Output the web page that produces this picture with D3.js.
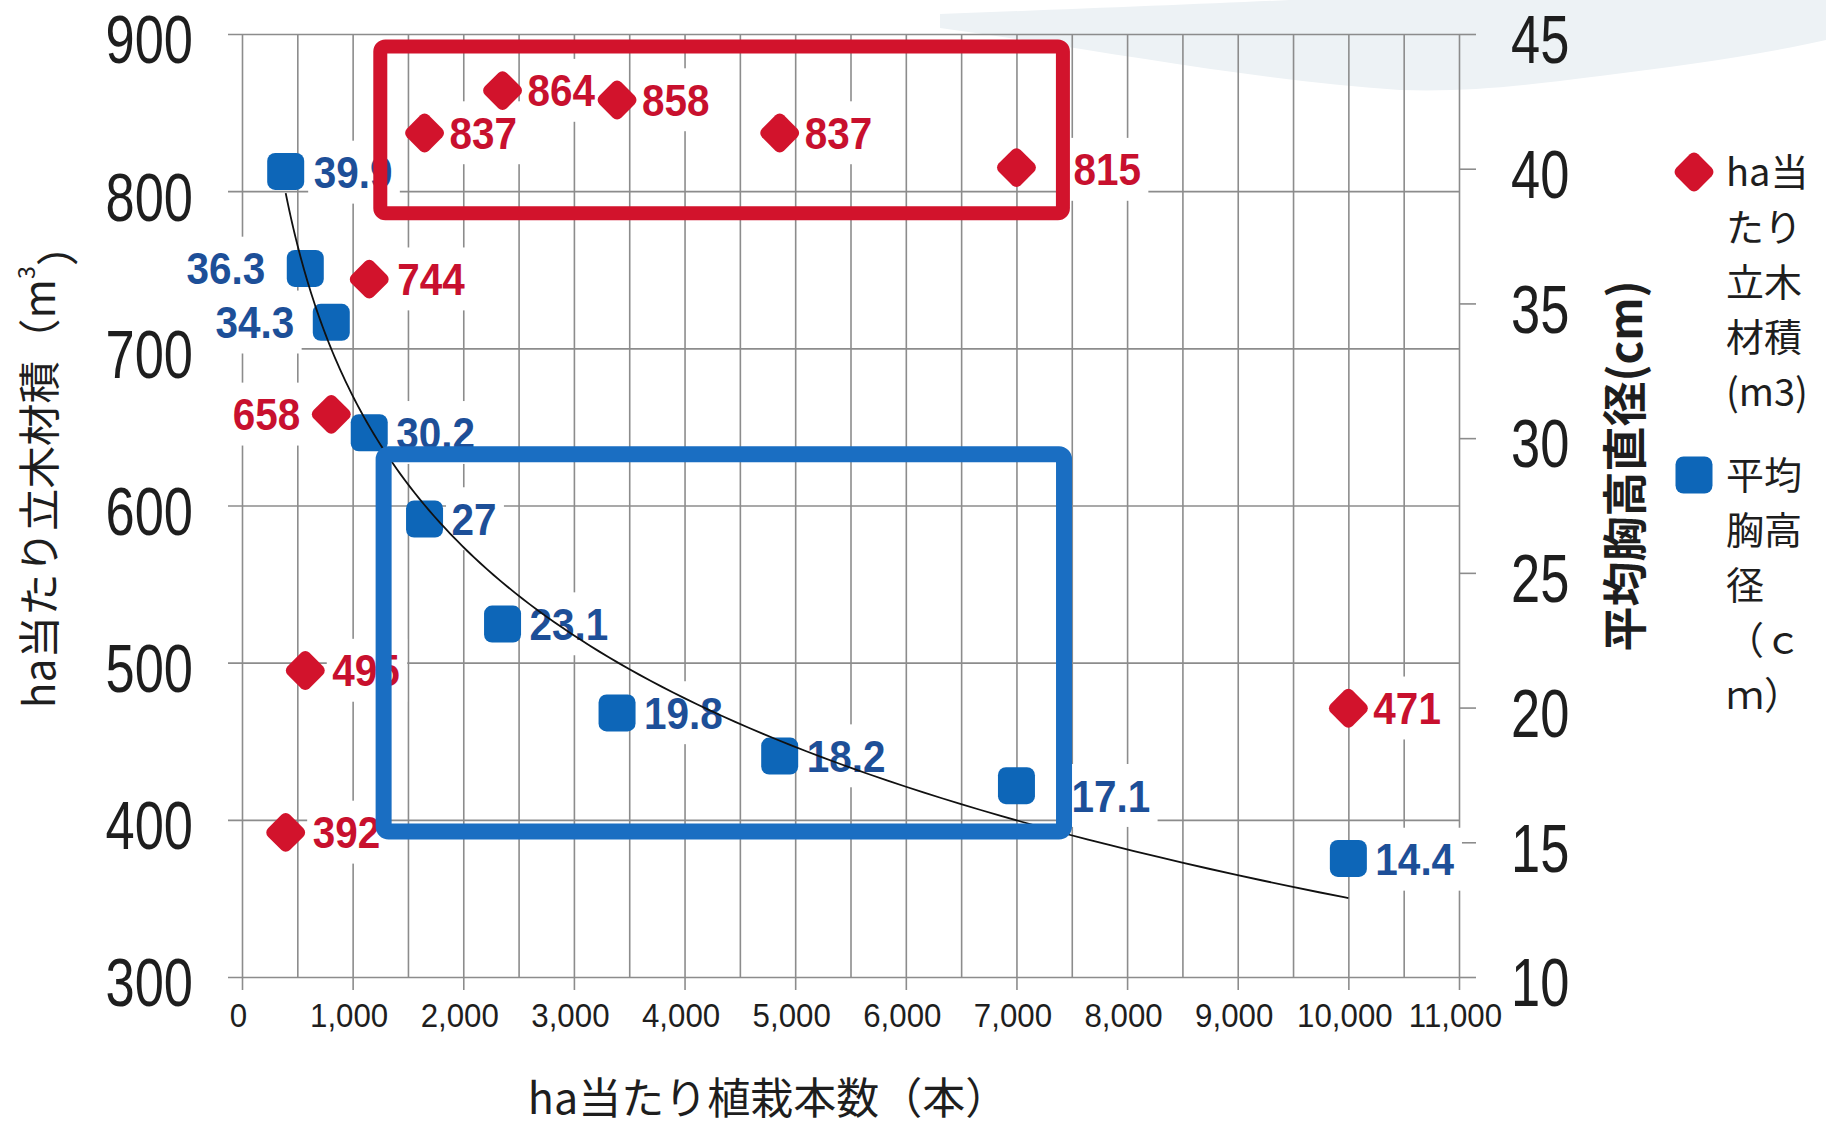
<!DOCTYPE html>
<html><head><meta charset="utf-8">
<script src="https://cdn.jsdelivr.net/npm/d3@7"></script>
<style>html,body{margin:0;padding:0;background:#fff;} svg{display:block}</style>
</head><body>
<svg id="chart" width="1826" height="1133"></svg>
<script>
// ---------------- data ----------------
const density = [395, 572, 807, 1150, 1650, 2355, 3390, 4860, 7000, 10000];   // ha当たり植栽本数
const volume  = [392, 495, 658, 744, 837, 864, 858, 837, 815, 471];            // ha当たり立木材積 (m3)
const dbh     = [39.9, 36.3, 34.3, 30.2, 27, 23.1, 19.8, 18.2, 17.1, 14.4];    // 平均胸高直径 (cm)
const volumeLabels = ["392","495","658","744","837","864","858","837","815","471"];
const dbhLabels    = ["39.9","36.3","34.3","30.2","27","23.1","19.8","18.2","17.1","14.4"];
const xTicks      = [0,1000,2000,3000,4000,5000,6000,7000,8000,9000,10000,11000];
const xGrid       = d3.range(0, 11001, 500);
const yLeftTicks  = [300,400,500,600,700,800,900];
const yRightTicks = [10,15,20,25,30,35,40,45];
// highlight frames (data units)
const volumeFrameX = [1250, 7420];
const volumeFrameY = [786, 892];     // left axis
const dbhFrameX    = [1280, 7430];
const dbhFrameY    = [15.4, 29.4];   // right axis
const legendVolumeLines = ["ha当","たり","立木","材積","(m3)"];
const legendDbhLines    = ["平均","胸高","径","（ｃ","ｍ）"];

// ---------------- layout / style ----------------
const RED = "#d2132c", RED_TXT = "#c8102e";
const BLUE = "#0d66b8", BLUE_TXT = "#1d4f98", BLUE_FRAME = "#1a6ec2";
const GRID = "#8c8c8c";
const fontNum = "'Liberation Sans', Arial, sans-serif";
const fontJP = "'Noto Sans CJK JP', 'Noto Sans', sans-serif";
const volLabelDx = [27, 27, -31, 28, 25, 25, 25, 25, 57, 25];
const volLabelDy = [0, 0, 0, 0, 0, 0, 0, 0, 2, 0];
const dbhLabelDx = [28, -40, -37, 27, 27, 27, 27, 27, 55, 27];
const dbhLabelDy = [1, 0, 0, 0, 0, 0, 0, 0, 10, 1];

const svg = d3.select("#chart");
const x  = d3.scaleLinear([0, 11000], [242, 1459]);
const yL = d3.scaleLinear([300, 900], [977, 34]);
const yR = d3.scaleLinear([10, 45], [977, 34]);

// decorative background swoosh (top right)
svg.append("path")
  .attr("d", "M 940 14 C 1050 10, 1200 4, 1290 0 L 1826 0 L 1826 40 C 1760 55, 1680 66, 1600 76 C 1520 86, 1470 92, 1400 90 C 1250 80, 1100 50, 940 28 Z")
  .attr("fill", "#edf2f5");

// ---------------- grid & axes ----------------
const plotH = yL(300) - yL(900);
svg.append("g").attr("transform", `translate(0,${yL(300)})`)
  .call(d3.axisBottom(x).tickValues(xGrid).tickSize(-plotH).tickFormat(""))
  .call(g => g.select(".domain").remove())
  .call(g => g.selectAll("line").attr("stroke", GRID).attr("stroke-width", 1.6));
svg.append("g").attr("transform", `translate(0,${yL(300)})`)
  .call(d3.axisBottom(x).tickValues(xTicks).tickSize(13).tickFormat(""))
  .call(g => g.select(".domain").remove())
  .call(g => g.selectAll("line").attr("stroke", GRID).attr("stroke-width", 1.6));
svg.append("g").attr("transform", `translate(${x(11000)},0)`)
  .call(d3.axisLeft(yL).tickValues(yLeftTicks).tickSize(x(11000) - x(0) + 14).tickFormat(""))
  .call(g => g.select(".domain").remove())
  .call(g => g.selectAll("line").attr("stroke", GRID).attr("stroke-width", 1.6));
svg.append("g").attr("transform", `translate(${x(11000)},0)`)
  .call(d3.axisRight(yR).tickValues(yRightTicks).tickSize(17).tickFormat(""))
  .call(g => g.select(".domain").remove())
  .call(g => g.selectAll("line").attr("stroke", GRID).attr("stroke-width", 1.6));

svg.append("g").attr("transform", "translate(193,4)")
  .call(d3.axisLeft(yL).tickValues(yLeftTicks).tickSize(0).tickPadding(0))
  .call(g => g.select(".domain").remove())
  .call(g => g.selectAll("text").attr("x", 0).attr("dy", "0.36em")
    .attr("font-family", fontNum).attr("font-size", 69).attr("fill", "#1e1e1e")
    .attr("transform", "scale(0.76,1)"));
svg.append("g").attr("transform", "translate(1511,4)")
  .call(d3.axisRight(yR).tickValues(yRightTicks).tickSize(0).tickPadding(0))
  .call(g => g.select(".domain").remove())
  .call(g => g.selectAll("text").attr("x", 0).attr("dy", "0.36em")
    .attr("font-family", fontNum).attr("font-size", 69).attr("fill", "#1e1e1e")
    .attr("transform", "scale(0.76,1)"));
svg.append("g").attr("transform", "translate(-4,1015)")
  .call(d3.axisBottom(x).tickValues(xTicks).tickSize(0).tickPadding(0).tickFormat(d3.format(",")))
  .call(g => g.select(".domain").remove())
  .call(g => g.selectAll("text").attr("y", 0).attr("dy", "0.36em")
    .attr("font-family", fontNum).attr("font-size", 34).attr("fill", "#1e1e1e")
    .attr("transform", "scale(0.92,1)"));

// ---------------- axis titles ----------------
const leftTitle = svg.append("text")
  .attr("transform", "translate(40,466) rotate(-90)")
  .attr("text-anchor", "middle").attr("dy", "0.36em")
  .attr("font-family", fontJP).attr("font-size", 42.5).attr("fill", "#1e1e1e");
leftTitle.append("tspan").text("ha当たり立木材積（m");
leftTitle.append("tspan").attr("font-size", 23).attr("dy", "-0.9em").text("3");
leftTitle.append("tspan").attr("dy", "0.9em").text("）");

svg.append("text")
  .attr("transform", "translate(1626,466) rotate(-90)")
  .attr("text-anchor", "middle").attr("dy", "0.36em")
  .attr("font-family", fontJP).attr("font-size", 45).attr("font-weight", 700).attr("fill", "#1e1e1e")
  .text("平均胸高直径(cm)");

svg.append("text")
  .attr("x", 768).attr("y", 1099).attr("dy", "0.36em")
  .attr("text-anchor", "middle")
  .attr("font-family", fontJP).attr("font-size", 43).attr("fill", "#1e1e1e")
  .text("ha当たり植栽本数（本）");

// ---------------- layers ----------------
const boxLayer = svg.append("g");
const markerLayer = svg.append("g");
const textLayer = svg.append("g");
const curveLayer = svg.append("g");
const frameLayer = svg.append("g");

function diamond(sel, color) {
  sel.append("rect").attr("x", -15.5).attr("y", -15.5).attr("width", 31).attr("height", 31)
    .attr("rx", 6).attr("transform", "rotate(45)").attr("fill", color);
}
function square(sel, color) {
  sel.append("rect").attr("x", -18.5).attr("y", -18.5).attr("width", 37).attr("height", 37)
    .attr("rx", 8).attr("fill", color);
}

const volData = d3.zip(density, volume);
const dbhData = d3.zip(density, dbh);

markerLayer.selectAll("g.vol").data(volData).join("g").attr("class", "vol")
  .attr("transform", d => `translate(${x(d[0])},${yL(d[1])})`)
  .call(diamond, RED);
markerLayer.selectAll("g.dbh").data(dbhData).join("g").attr("class", "dbh")
  .attr("transform", d => `translate(${x(d[0])},${yR(d[1])})`)
  .call(square, BLUE);

function addLabels(data, yScale, labels, dxs, dys, color) {
  data.forEach((d, i) => {
    const tr = `translate(${x(d[0]) + dxs[i]},${yScale(d[1]) + dys[i]}) scale(0.92,1)`;
    const t = textLayer.append("text").attr("transform", tr)
      .attr("text-anchor", dxs[i] < 0 ? "end" : "start").attr("dy", "0.36em")
      .attr("font-family", fontNum).attr("font-size", 44).attr("font-weight", 700)
      .attr("fill", color).text(labels[i]);
    const bb = t.node().getBBox();
    boxLayer.append("rect").attr("transform", tr)
      .attr("x", bb.x - 6).attr("y", bb.y - 8).attr("width", bb.width + 14).attr("height", bb.height + 14)
      .attr("fill", "#fff");
  });
}
addLabels(volData, yL, volumeLabels, volLabelDx, volLabelDy, RED_TXT);
addLabels(dbhData, yR, dbhLabels, dbhLabelDx, dbhLabelDy, BLUE_TXT);

// ---------------- logarithmic trendline of DBH ----------------
const lx = density.map(Math.log);
const mx = d3.mean(lx), my = d3.mean(dbh);
const slope = d3.sum(lx.map((v, i) => (v - mx) * (dbh[i] - my))) / d3.sum(lx.map(v => (v - mx) ** 2));
const icpt = my - slope * mx;
const lo = Math.log(d3.min(density)), hi = Math.log(d3.max(density));
const trend = d3.range(0, 121).map(i => {
  const xv = Math.exp(lo + (hi - lo) * i / 120);
  return [xv, icpt + slope * Math.log(xv)];
});
curveLayer.append("path").datum(trend)
  .attr("d", d3.line().x(d => x(d[0])).y(d => yR(d[1])).curve(d3.curveMonotoneX))
  .attr("fill", "none").attr("stroke", "#111").attr("stroke-width", 1.8);

// ---------------- highlight frames ----------------
frameLayer.append("rect")
  .attr("x", x(volumeFrameX[0])).attr("y", yL(volumeFrameY[1]))
  .attr("width", x(volumeFrameX[1]) - x(volumeFrameX[0]))
  .attr("height", yL(volumeFrameY[0]) - yL(volumeFrameY[1]))
  .attr("rx", 5).attr("fill", "none").attr("stroke", RED).attr("stroke-width", 14);
frameLayer.append("rect")
  .attr("x", x(dbhFrameX[0])).attr("y", yR(dbhFrameY[1]))
  .attr("width", x(dbhFrameX[1]) - x(dbhFrameX[0]))
  .attr("height", yR(dbhFrameY[0]) - yR(dbhFrameY[1]))
  .attr("rx", 5).attr("fill", "none").attr("stroke", BLUE_FRAME).attr("stroke-width", 16);

// ---------------- legend ----------------
const legend = svg.append("g");
const legVol = legend.append("g").attr("transform", "translate(1694,172)");
legVol.append("g").call(diamond, RED);
legVol.selectAll("text").data(legendVolumeLines).join("text")
  .attr("x", 32).attr("y", (d, i) => i * 55).attr("dy", "0.36em")
  .attr("font-family", fontJP).attr("font-size", 38).attr("fill", "#1e1e1e").text(d => d);
const legDbh = legend.append("g").attr("transform", "translate(1694,475)");
legDbh.append("g").call(square, BLUE);
legDbh.selectAll("text").data(legendDbhLines).join("text")
  .attr("x", 32).attr("y", (d, i) => i * 55).attr("dy", "0.36em")
  .attr("font-family", fontJP).attr("font-size", 38).attr("fill", "#1e1e1e").text(d => d);
</script>
</body></html>
